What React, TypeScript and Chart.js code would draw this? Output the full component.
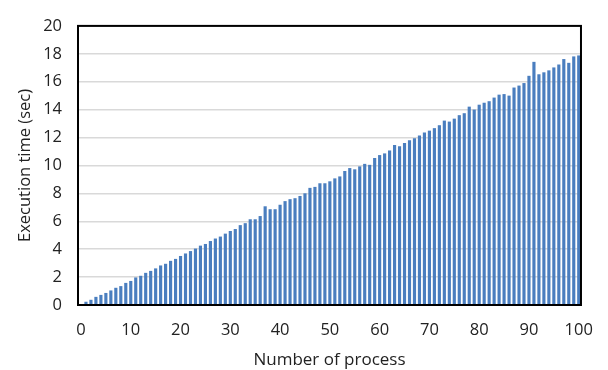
import React, { useEffect, useRef } from "react";
import { Chart, registerables } from "chart.js";

Chart.register(...registerables);

const processes: number[] = Array.from({ length: 100 }, (_, i) => i + 1);

const executionTimes: number[] = [
  0.21, 0.35, 0.56, 0.7, 0.84, 1.02, 1.21, 1.33, 1.56, 1.7,
  1.95, 2.07, 2.28, 2.42, 2.6, 2.81, 2.93, 3.14, 3.28, 3.49,
  3.67, 3.84, 4.02, 4.23, 4.35, 4.56, 4.74, 4.88, 5.09, 5.28,
  5.42, 5.7, 5.84, 6.12, 6.12, 6.35, 7.05, 6.84, 6.84, 7.16,
  7.42, 7.56, 7.63, 7.79, 7.98, 8.37, 8.44, 8.7, 8.7, 8.84,
  9.05, 9.19, 9.58, 9.79, 9.7, 9.91, 10.09, 10.02, 10.51, 10.72,
  10.84, 11.05, 11.44, 11.35, 11.58, 11.79, 11.93, 12.12, 12.33, 12.47,
  12.65, 12.86, 13.19, 13.12, 13.33, 13.58, 13.72, 14.19, 13.98, 14.33,
  14.47, 14.58, 14.84, 15.05, 15.09, 14.98, 15.56, 15.7, 15.88, 16.4,
  17.4, 16.51, 16.65, 16.79, 17.0, 17.21, 17.6, 17.33, 17.79, 17.86,
];

const xTickValues: number[] = [0, 10, 20, 30, 40, 50, 60, 70, 80, 90, 100];
const yTickValues: number[] = [0, 2, 4, 6, 8, 10, 12, 14, 16, 18, 20];

const FONT = "'Open Sans', 'DejaVu Sans', sans-serif";

const framePlugin = {
  id: "frame",
  afterDraw(chart: any) {
    const { ctx, chartArea } = chart;
    ctx.save();
    ctx.strokeStyle = "#000000";
    ctx.lineWidth = 2;
    ctx.strokeRect(
      chartArea.left,
      chartArea.top,
      chartArea.right - chartArea.left,
      chartArea.bottom - chartArea.top
    );
    ctx.restore();
  },
};

export default function App() {
  const canvasRef = useRef<HTMLCanvasElement | null>(null);

  useEffect(() => {
    document.body.style.margin = "0";
    const canvas = canvasRef.current;
    if (!canvas) return;
    const chart = new Chart(canvas, {
      type: "bar",
      data: {
        datasets: [
          {
            label: "Execution time",
            data: processes.map((p, i) => ({ x: p, y: executionTimes[i] })),
            backgroundColor: "#4a7ebf",
            borderWidth: 0,
            barThickness: 2.5,
          },
        ],
      },
      options: {
        responsive: false,
        animation: false,
        layout: { padding: { left: 0, top: 19, right: 25, bottom: 0 } },
        plugins: {
          legend: { display: false },
          tooltip: { enabled: false },
        },
        scales: {
          x: {
            type: "linear",
            min: -0.6,
            max: 100.45,
            offset: false,
            afterBuildTicks: (scale: any) => {
              scale.ticks = xTickValues.map((v) => ({ value: v }));
            },
            afterFit: (scale: any) => {
              scale.height = 65;
            },
            grid: { display: false, drawTicks: false },
            border: { display: false },
            ticks: {
              color: "#222",
              padding: 15,
              maxRotation: 0,
              autoSkip: false,
              font: { family: FONT, size: 16.5 },
            },
            title: {
              display: true,
              text: "Number of process",
              color: "#222",
              font: { family: FONT, size: 17 },
              padding: { top: 0, bottom: 0 },
            },
          },
          y: {
            min: 0,
            max: 20,
            afterBuildTicks: (scale: any) => {
              scale.ticks = yTickValues.map((v) => ({ value: v }));
            },
            afterFit: (scale: any) => {
              scale.width = 78;
            },
            grid: {
              color: "#d9d9d9",
              lineWidth: 1.5,
              drawTicks: false,
            },
            border: { display: false },
            ticks: {
              color: "#222",
              padding: 16,
              font: { family: FONT, size: 16.5 },
            },
            title: {
              display: true,
              text: "Execution time (sec)",
              color: "#222",
              font: { family: FONT, size: 16.5 },
              padding: { top: 15, bottom: 0 },
            },
          },
        },
      },
      plugins: [framePlugin],
    });
    return () => chart.destroy();
  }, []);

  return (
    <canvas
      ref={canvasRef}
      width={608}
      height={370}
      style={{ display: "block", width: 608, height: 370 }}
    />
  );
}
